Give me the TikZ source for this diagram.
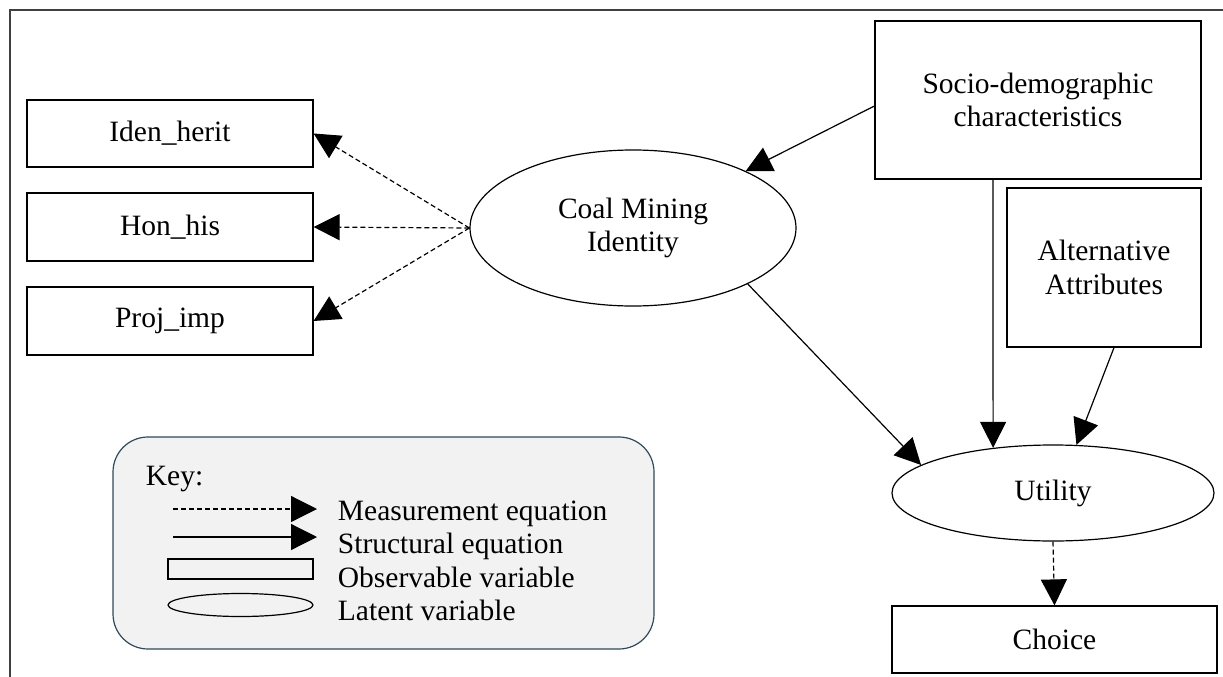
\documentclass[tikz,border=0pt]{standalone}
\usepackage{fontspec}
\setmainfont{Liberation Serif}
\usetikzlibrary{arrows.meta,shapes.geometric}

\definecolor{keyfill}{HTML}{F2F2F2}
\definecolor{keyedge}{HTML}{2F4A5A}

\begin{document}
\begin{tikzpicture}[x = 1pt, y = -1pt, line width = 1.2pt,
                    font = \fontsize{29.5pt}{33.5pt}\selectfont,
                    obs/.style = {draw, rectangle, inner sep = 0pt, align = center},
                    lat/.style = {draw, ellipse, inner sep = 0pt, align = center},
                    structeq/.style = {-{Triangle[length = 26pt, width = 26pt]}},
                    measeq/.style = {structeq, dash pattern = on 5pt off 3pt}]

\useasboundingbox (0,0) rectangle (1223,677);

% frame
\draw[black!75, line width = 1.4pt] (10,677) -- (10,10) -- (1223,10);

% indicators
\node [obs, minimum width = 286pt, minimum height = 67pt] (iden) at (170,133.5) {Iden\_herit};
\node [obs, minimum width = 286pt, minimum height = 68pt] (hon)  at (170,227) {Hon\_his};
\node [obs, minimum width = 286pt, minimum height = 68pt] (proj) at (170,321) {Proj\_imp};

% latent variables
\node [lat, minimum width = 326pt, minimum height = 156pt] (coal) at (633,228) {Coal Mining\\Identity};
\node [lat, minimum width = 322pt, minimum height = 96pt]  (util) at (1053,493) {Utility};

% observed variables
\node [obs, minimum width = 326pt, minimum height = 158pt] (socio)  at (1038,100) {Socio-demographic\\characteristics};
\node [obs, minimum width = 194pt, minimum height = 159pt] (alt)    at (1104,267.5) {Alternative\\Attributes};
\node [obs, minimum width = 325pt, minimum height = 67pt]  (choice) at (1054.5,639.5) {Choice};

% key
\node [draw = keyedge, fill = keyfill, rounded corners = 35pt,
       minimum width = 541pt, minimum height = 212pt] (key) at (383.5,543) {};
\node [anchor = base west] (key-title) at (142,485) {Key:};
\node [anchor = base west] (key-meas)  at (334,520) {Measurement equation};
\node [anchor = base west] (key-struc) at (334,553) {Structural equation};
\node [anchor = base west] (key-obs)   at (334,587) {Observable variable};
\node [anchor = base west] (key-lat)   at (334,620) {Latent variable};

\coordinate (km1) at (173,509);
\coordinate (km2) at (317,509);
\coordinate (ks1) at (173,537);
\coordinate (ks2) at (317,537);
\draw[measeq] (km1) -- (km2);
\draw[structeq] (ks1) -- (ks2);
\node [obs, minimum width = 145pt, minimum height = 20pt] (key-box) at (240.5,569) {};
\node [lat, minimum width = 145pt, minimum height = 23pt] (key-ell) at (240.5,605) {};

% measurement equations
\draw[measeq] (coal.west) -- (iden.east);
\draw[measeq] (coal.west) -- (hon.east);
\draw[measeq] (coal.west) -- (proj.east);
\draw[measeq] (util.south) -- (choice.north);

% structural equations
\draw[structeq] ([yshift = -6pt]socio.west) -- (coal);
\draw[structeq] (coal.-26) -- (util.168);
\draw[structeq] ([xshift = -45pt]socio.south) -- (util.143);
\draw[structeq] ([xshift = 10pt]alt.south) -- (util.64);

\end{tikzpicture}
\end{document}
